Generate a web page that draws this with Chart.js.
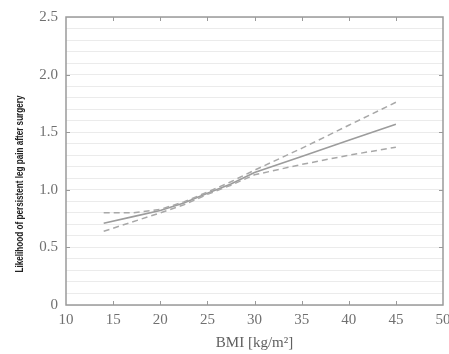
<!DOCTYPE html>
<html>
<head>
<meta charset="utf-8">
<script src="https://cdn.jsdelivr.net/npm/chart.js@4/dist/chart.umd.min.js"></script>
<style>
  html, body { margin: 0; padding: 0; background: #fff; }
  #wrap { width: 449px; height: 354px; }
</style>
</head>
<body>
<div id="wrap"><canvas id="bmi_chart"></canvas></div>
<script>
// BMI values where the curves were read
var bmi = [14, 17, 20, 22.5, 25, 27.5, 30, 35, 40, 45];
// estimated likelihood and its confidence limits
var likelihood = [0.71, 0.765, 0.82, 0.885, 0.97, 1.05, 1.15, 1.29, 1.43, 1.57];
var upperCI = [0.80, 0.80, 0.83, 0.895, 0.98, 1.07, 1.17, 1.36, 1.56, 1.76];
var lowerCI = [0.64, 0.72, 0.80, 0.87, 0.96, 1.04, 1.13, 1.22, 1.30, 1.37];
// tick marks
var xTicks = [15, 20, 25, 30, 35, 40, 45];
var yTicks = [0.5, 1.0, 1.5, 2.0];

var yTitle = 'Likelihood of persistent leg pain after surgery';
var xTitle = 'BMI [kg/m\u00B2]';

function points(ys) {
  return bmi.map(function (x, i) { return { x: x, y: ys[i] }; });
}

// frame, inward ticks and the squeezed y title
var framePlugin = {
  id: 'frame',
  afterDraw: function (chart) {
    var ctx = chart.ctx;
    var a = chart.chartArea;
    var xs = chart.scales.x, ys = chart.scales.y;
    ctx.save();
    ctx.strokeStyle = '#9a9a9a';
    ctx.lineWidth = 1.5;
    ctx.strokeRect(a.left, a.top, a.right - a.left, a.bottom - a.top);
    ctx.lineWidth = 1;
    ctx.beginPath();
    xTicks.forEach(function (v) {
      var px = Math.round(xs.getPixelForValue(v)) + 0.5;
      ctx.moveTo(px, a.bottom); ctx.lineTo(px, a.bottom - 4);
      ctx.moveTo(px, a.top); ctx.lineTo(px, a.top + 4);
    });
    yTicks.forEach(function (v) {
      var py = Math.round(ys.getPixelForValue(v)) + 0.5;
      ctx.moveTo(a.left, py); ctx.lineTo(a.left + 4, py);
      ctx.moveTo(a.right, py); ctx.lineTo(a.right - 4, py);
    });
    ctx.stroke();

    // y title, narrow like the original
    ctx.translate(20, 184);
    ctx.rotate(-Math.PI / 2);
    ctx.font = 'bold 11px "Liberation Sans", Arial, sans-serif';
    var w = ctx.measureText(yTitle).width;
    ctx.scale(177 / w, 1);
    ctx.fillStyle = '#222';
    ctx.textAlign = 'center';
    ctx.textBaseline = 'middle';
    ctx.fillText(yTitle, 0, 0);
    ctx.restore();
  }
};

function startChart() {
  var dashed = {
    borderColor: '#a8a8a8',
    borderWidth: 1.5,
    borderDash: [6, 4],
    pointRadius: 0,
    showLine: true,
    fill: false
  };
  var data = {
    datasets: [
      Object.assign({ label: 'upper', data: points(upperCI) }, dashed),
      Object.assign({ label: 'lower', data: points(lowerCI) }, dashed),
      {
        label: 'likelihood',
        data: points(likelihood),
        borderColor: '#9c9c9c',
        borderWidth: 1.6,
        pointRadius: 0,
        showLine: true,
        fill: false
      }
    ]
  };

  new Chart('bmi_chart', {
    type: 'scatter',
    data: data,
    options: {
      responsive: true,
      maintainAspectRatio: false,
      animation: false,
      layout: { padding: { left: 0, top: 17, right: 6, bottom: 0 } },
      plugins: {
        legend: { display: false },
        tooltip: { enabled: false }
      },
      scales: {
        x: {
          type: 'linear',
          min: 10,
          max: 50,
          afterFit: function (s) {
            s.height = 49;
            // let the "50" label hang over the right padding
            s.paddingLeft = 0;
            s.paddingRight = 0;
          },
          ticks: {
            stepSize: 5,
            padding: 6,
            color: '#707070',
            font: { family: '"Liberation Serif", "Times New Roman", serif', size: 15 }
          },
          grid: { display: false, drawTicks: false },
          border: { display: false },
          title: {
            display: true,
            text: xTitle,
            color: '#606060',
            padding: { top: 0, bottom: 2 },
            font: { family: '"Liberation Serif", "Times New Roman", serif', size: 15 }
          }
        },
        y: {
          min: 0,
          max: 2.5,
          afterFit: function (s) { s.width = 66; },
          ticks: {
            stepSize: 0.1,
            autoSkip: false,
            padding: 8,
            color: '#707070',
            font: { family: '"Liberation Serif", "Times New Roman", serif', size: 15 },
            callback: function (v) {
              if (Math.abs(v * 2 - Math.round(v * 2)) > 1e-6) return '';
              return v < 1e-6 ? '0' : v.toFixed(1);
            }
          },
          grid: { color: '#ebebeb', lineWidth: 1, drawTicks: false },
          border: { display: false }
        }
      }
    },
    plugins: [framePlugin]
  });
}

startChart();
</script>
</body>
</html>
